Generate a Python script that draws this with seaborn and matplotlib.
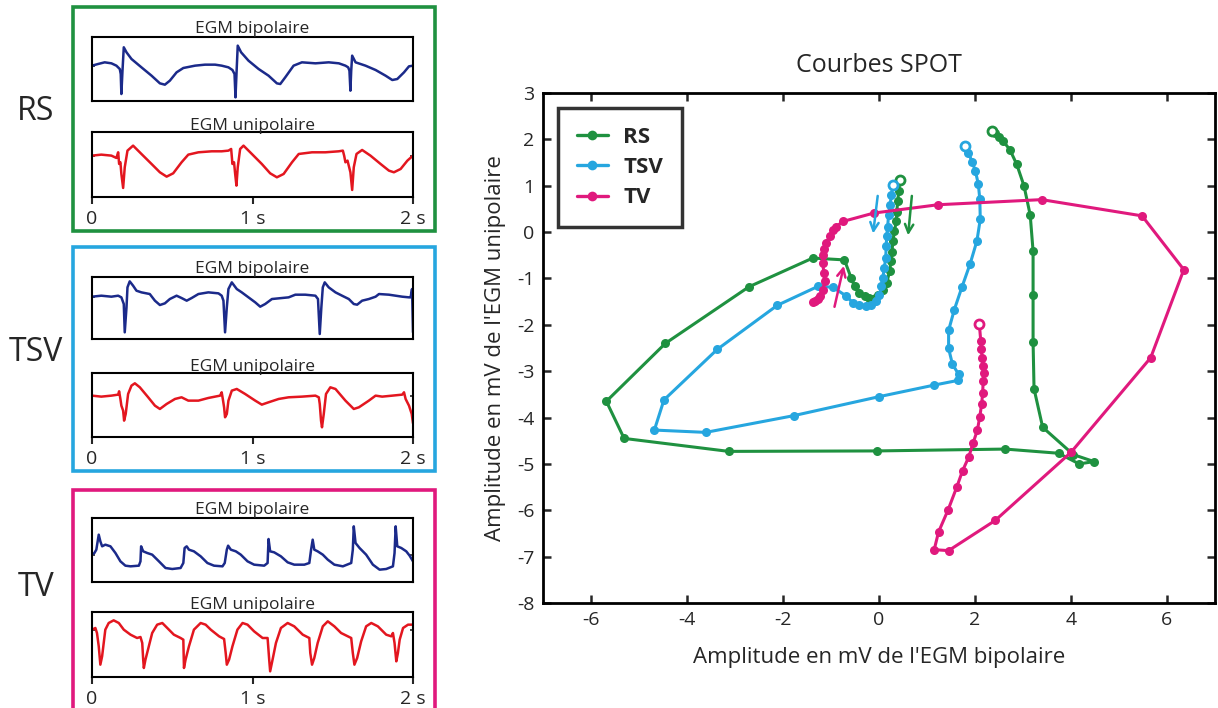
import matplotlib.pyplot as plt
from matplotlib.lines import Line2D
from matplotlib.patches import Rectangle
import seaborn as sns

sns.set_theme(style="white")
plt.rcParams['font.family'] = ['Open Sans', 'DejaVu Sans']
plt.rcParams['axes.unicode_minus'] = False

# ---- colours
GREEN = '#1f9140'
BLUE = '#26a6df'
PINK = '#e0197d'
NAVY = '#1b2a8a'
RED = '#e3161f'

# ---- SPOT curves (bipolar mV, unipolar mV)
rs_x = [0.44, 0.41, 0.39, 0.37, 0.36, 0.32, 0.29, 0.27, 0.25, 0.22,
        0.16, 0.08, -0.02, -0.20, -0.30, -0.42, -0.51, -0.58, -0.72, -1.38,
        -2.71, -4.45, -5.68, -5.31, -3.13, -0.04, 2.63, 3.74, 4.17, 4.48,
        4.05, 3.41, 3.23, 3.21, 3.21, 3.21, 3.15, 3.02, 2.87, 2.73,
        2.59, 2.51, 2.42, 2.35]
rs_y = [1.13, 0.88, 0.66, 0.44, 0.23, 0.02, -0.20, -0.42, -0.63, -0.85,
        -1.10, -1.24, -1.35, -1.42, -1.38, -1.31, -1.17, -0.99, -0.60, -0.56,
        -1.18, -2.40, -3.65, -4.45, -4.73, -4.72, -4.68, -4.77, -5.00, -4.95,
        -4.80, -4.21, -3.38, -2.37, -1.35, -0.41, 0.37, 1.00, 1.46, 1.77,
        1.96, 2.06, 2.13, 2.17]

tsv_x = [0.29, 0.26, 0.23, 0.20, 0.18, 0.16, 0.15, 0.14, 0.11, 0.08,
         0.05, 0.01, -0.06, -0.16, -0.27, -0.41, -0.54, -0.68, -0.96, -1.27,
         -2.12, -3.37, -4.48, -4.68, -3.61, -1.78, 0.00, 1.15, 1.64, 1.66,
         1.53, 1.45, 1.45, 1.57, 1.73, 1.90, 2.04, 2.11, 2.10, 2.07,
         2.01, 1.94, 1.86, 1.79]
tsv_y = [1.02, 0.80, 0.59, 0.37, 0.12, -0.09, -0.31, -0.56, -0.77, -0.99,
         -1.17, -1.35, -1.49, -1.58, -1.60, -1.58, -1.53, -1.38, -1.19, -1.17,
         -1.58, -2.53, -3.62, -4.27, -4.32, -3.96, -3.55, -3.30, -3.20, -3.07,
         -2.85, -2.51, -2.12, -1.67, -1.18, -0.68, -0.19, 0.28, 0.71, 1.03,
         1.31, 1.52, 1.71, 1.86]

tv_x = [-1.38, -1.34, -1.28, -1.22, -1.17, -1.13, -1.15, -1.17, -1.17, -1.15,
        -1.10, -1.03, -0.96, -0.89, -0.75, -0.11, 1.23, 3.39, 5.48, 6.35,
        5.66, 4.00, 2.42, 1.45, 1.15, 1.24, 1.44, 1.62, 1.74, 1.87,
        1.96, 2.05, 2.10, 2.14, 2.16, 2.17, 2.18, 2.17, 2.15, 2.13,
        2.12, 2.09]
tv_y = [-1.50, -1.48, -1.45, -1.38, -1.24, -1.06, -0.88, -0.67, -0.49, -0.36,
        -0.24, -0.09, 0.04, 0.12, 0.23, 0.41, 0.59, 0.70, 0.35, -0.81,
        -2.71, -4.75, -6.22, -6.87, -6.85, -6.47, -5.99, -5.50, -5.15, -4.85,
        -4.55, -4.27, -3.98, -3.70, -3.46, -3.22, -3.05, -2.89, -2.71, -2.53,
        -2.35, -1.98]

# direction arrows: (tail, head)
arrows = [((-0.02, 0.84), (-0.13, -0.09), BLUE),
          ((0.69, 0.84), (0.60, -0.13), GREEN),
          ((-0.94, -1.67), (-0.72, -0.67), PINK)]

# ---- EGM traces (time s, amplitude a.u.)
rs_bip_t = [0, .038, .079, .121, .152, .173, .179, .183, .190, .198,
            .215, .246, .308, .371, .423, .454, .485, .527, .569, .642,
            .704, .767, .808, .850, .875, .888, .894, .902, .908, .929,
            .975, 1.038, 1.100, 1.152, 1.173, 1.204, 1.256, 1.308, 1.392, 1.475,
            1.538, 1.579, 1.596, 1.604, 1.610, 1.615, 1.621, 1.642, 1.704, 1.767,
            1.829, 1.871, 1.902, 1.944, 1.975, 2.0]
rs_bip_a = [0, .05, .10, .07, 0, -.10, -.25, -.85, -.15, .55,
            .40, .20, -.05, -.30, -.53, -.57, -.45, -.20, -.07, 0,
            .03, .03, 0, -.05, -.13, -.25, -.95, -.05, .60, .40,
            .15, -.10, -.30, -.53, -.55, -.35, 0, .10, .07, .10,
            .07, 0, -.05, -.15, -.75, -.15, .30, .10, 0, -.13,
            -.30, -.43, -.40, -.20, -.02, 0]

rs_uni_t = [0, .058, .121, .152, .163, .169, .177, .183, .194, .204,
            .221, .256, .308, .371, .423, .465, .506, .558, .600, .663,
            .746, .808, .850, .867, .875, .885, .892, .900, .908, .923,
            .944, .996, 1.058, 1.110, 1.152, 1.194, 1.246, 1.288, 1.371, 1.454,
            1.538, 1.563, 1.571, 1.579, 1.592, 1.610, 1.621, 1.631, 1.648, 1.683,
            1.735, 1.798, 1.850, 1.881, 1.923, 1.965, 2.0]
rs_uni_a = [0, .03, 0, -.07, .10, -.25, -.20, -.55, -.97, -.35,
            .15, .30, .05, -.25, -.50, -.63, -.53, -.20, .03, .10,
            .13, .13, .15, .20, -.25, -.20, -.55, -.90, -.35, .20,
            .30, .05, -.25, -.53, -.65, -.55, -.20, .05, .10, .10,
            .13, .15, 0, -.20, -.15, -.50, -1.03, -.35, .05, .17,
            0, -.25, -.45, -.50, -.40, -.15, 0]

tsv_bip_t = [0, .058, .121, .163, .183, .198, .204, .215, .221, .235,
             .256, .277, .308, .360, .392, .423, .454, .485, .527, .558,
             .590, .621, .663, .725, .788, .808, .819, .829, .840, .850,
             .871, .902, .933, .975, 1.017, 1.048, 1.079, 1.121, 1.183, 1.225,
             1.267, 1.329, 1.392, 1.408, 1.419, 1.429, 1.438, 1.450, 1.475, 1.517,
             1.558, 1.600, 1.631, 1.652, 1.683, 1.725, 1.767, 1.788, 1.850, 1.933,
             1.975, 1.985, 1.994, 2.0]
tsv_bip_a = [0, .03, 0, .03, -.02, -.22, -1.07, -.32, .28, .46,
             .33, .18, .13, .08, -.12, -.25, -.20, -.07, .03, -.04,
             -.12, -.04, .08, .13, .10, .03, -.12, -1.07, -.32, .23,
             .43, .23, .13, -.02, -.17, -.30, -.22, -.07, -.04, -.02,
             .06, .06, .03, -.07, -1.12, -.32, .28, .43, .28, .13,
             .03, -.07, -.22, -.24, -.12, -.07, 0, .08, .06, 0,
             -.02, -.02, .23, -1.07]

tsv_uni_t = [0, .058, .121, .163, .169, .177, .183, .194, .200, .210,
             .225, .246, .267, .298, .350, .392, .423, .465, .517, .558,
             .600, .663, .725, .798, .808, .815, .823, .829, .840, .850,
             .871, .902, .954, 1.017, 1.058, 1.100, 1.163, 1.225, 1.308, 1.392,
             1.413, 1.419, 1.427, 1.433, 1.444, 1.458, 1.485, 1.517, 1.579, 1.631,
             1.663, 1.725, 1.767, 1.808, 1.871, 1.933, 1.944, 1.954, 1.975, 1.992,
             2.0]
tsv_uni_a = [0, -.03, 0, .03, .13, -.10, -.30, -.45, -.75, -.55,
             .05, .30, .37, .25, -.05, -.30, -.40, -.25, -.10, -.05,
             -.15, -.15, -.07, 0, .10, -.10, -.35, -.65, -.55, -.15,
             .15, .20, .05, -.15, -.27, -.20, -.10, -.05, -.03, 0,
             -.05, -.25, -.75, -.95, -.55, .05, .25, .20, -.15, -.40,
             -.35, -.15, 0, -.03, 0, .03, .10, -.10, -.30, -.55,
             -.83]

tv_bip_t = [0, .015, .027, .042, .052, .063, .083, .115, .146, .177,
            .208, .240, .292, .302, .306, .319, .344, .375, .417, .458,
            .500, .552, .569, .577, .590, .604, .635, .677, .719, .760,
            .813, .827, .840, .848, .865, .896, .927, .969, 1.010, 1.073,
            1.094, 1.100, 1.110, 1.135, 1.177, 1.219, 1.260, 1.323, 1.354, 1.365,
            1.375, 1.385, 1.406, 1.438, 1.469, 1.510, 1.563, 1.615, 1.625, 1.631,
            1.642, 1.667, 1.708, 1.750, 1.792, 1.833, 1.875, 1.885, 1.892, 1.902,
            1.927, 1.958, 1.979, 2.0]
tv_bip_a = [0, .05, .15, .60, .40, .25, .30, .25, .05, -.20,
            -.33, -.35, -.33, -.20, .25, .10, .05, 0, -.20, -.40,
            -.43, -.40, -.25, .20, .25, .15, .10, -.05, -.25, -.33,
            -.35, -.25, .15, .27, .15, .10, 0, -.20, -.30, -.33,
            -.25, .47, .10, .07, -.05, -.23, -.30, -.30, -.25, .15,
            .45, .15, .10, 0, -.15, -.30, -.35, -.25, .15, .85,
            .35, .20, 0, -.30, -.45, -.43, -.35, .05, .85, .25,
            .20, .10, -.03, -.20]

tv_uni_t = [0, .021, .031, .042, .052, .063, .073, .083, .104, .135,
            .167, .198, .240, .281, .302, .313, .319, .323, .333, .354,
            .375, .406, .438, .469, .510, .552, .569, .573, .583, .604,
            .635, .677, .708, .740, .792, .823, .833, .840, .854, .875,
            .906, .938, .969, 1.010, 1.063, 1.094, 1.104, 1.110, 1.125, 1.146,
            1.177, 1.219, 1.260, 1.313, 1.354, 1.360, 1.371, 1.385, 1.406, 1.438,
            1.469, 1.510, 1.552, 1.615, 1.625, 1.635, 1.652, 1.677, 1.708, 1.740,
            1.781, 1.833, 1.865, 1.875, 1.885, 1.896, 1.906, 1.917, 1.938, 1.969,
            2.0]
tv_uni_a = [0, .05, -.10, -.50, -1.05, -.80, -.40, 0, .20, .28,
            .20, 0, -.15, -.25, -.22, -.40, -.90, -1.15, -.90, -.50,
            -.10, .15, .20, .05, -.15, -.25, -.30, -1.15, -.90, -.50,
            0, .20, .15, 0, -.20, -.28, -.70, -1.05, -.90, -.50,
            0, .20, .15, -.05, -.25, -.25, -.90, -1.25, -.90, -.40,
            .05, .20, .10, -.15, -.25, -.70, -1.05, -.85, -.40, .10,
            .25, .10, -.10, -.25, -.70, -1.05, -.85, -.35, .10, .20,
            .10, -.15, -.20, -.10, -.40, -.95, -.70, -.30, .05, .15,
            .15]

panels = [
    # label, frame colour, frame y-range (px from top), bip axes, uni axes, traces, ylims
    ('RS', GREEN, (7.3, 230.7), (37.3, 100.7), (132.3, 197.3),
     (rs_bip_t, rs_bip_a), (rs_uni_t, rs_uni_a), (-1.05, 0.85), (-1.25, 0.70), 111.7),
    ('TSV', BLUE, (247.3, 470.7), (276.7, 339.0), (373.3, 437.3),
     (tsv_bip_t, tsv_bip_a), (tsv_uni_t, tsv_uni_a), (-1.27, 0.60), (-1.25, 0.67), 353.0),
    ('TV', PINK, (490.0, 760.0), (518.0, 582.0), (612.0, 677.0),
     (tv_bip_t, tv_bip_a), (tv_uni_t, tv_uni_a), (-0.82, 1.10), (-1.42, 0.53), 588.0),
]

W, H = 1218, 708
fig = plt.figure(figsize=(W / 100, H / 100), dpi=100)


def frac_axes(left_px, right_px, top_px, bottom_px):
    return fig.add_axes([left_px / W, 1 - bottom_px / H,
                         (right_px - left_px) / W, (bottom_px - top_px) / H])


for (lab, col, fr, bip, uni, bip_tr, uni_tr, bip_lim, uni_lim, lab_y) in panels:
    fig.patches.append(Rectangle((72.5 / W, 1 - fr[1] / H), (435 - 72.5) / W,
                                 (fr[1] - fr[0]) / H, transform=fig.transFigure,
                                 fill=False, edgecolor=col, linewidth=2.6,
                                 clip_on=False))
    fig.text(36 / W, 1 - lab_y / H, lab, fontsize=23, ha='center', va='center')
    for rng, tr, lim, clr, title in [(bip, bip_tr, bip_lim, NAVY, 'EGM bipolaire'),
                                     (uni, uni_tr, uni_lim, RED, 'EGM unipolaire')]:
        ax = frac_axes(92, 413, rng[0], rng[1])
        sns.lineplot(x=tr[0], y=tr[1], sort=False, estimator=None, color=clr,
                     linewidth=1.8, ax=ax)
        ax.set_xlim(0, 2)
        ax.set_ylim(*lim)
        ax.set_title(title, fontsize=12.5, pad=2)
        ax.set_yticks([0])
        ax.set_yticklabels([])
        ax.tick_params(axis='y', direction='in', length=2, width=1.2,
                       left=True, right=True)
        if clr == RED:
            ax.set_xticks([0, 1, 2])
            ax.set_xticklabels(['0', '1 s', '2 s'], fontsize=14)
            ax.tick_params(axis='x', direction='out', length=5, width=1.5,
                           bottom=True, pad=4)
        else:
            ax.set_xticks([])
        ax.set_xlabel('')
        ax.set_ylabel('')
        for sp in ax.spines.values():
            sp.set_visible(True)
            sp.set_color('black')
            sp.set_linewidth(1.5)

# ---- main SPOT plot
ax = frac_axes(543, 1215, 93, 603)
series = [('RS', rs_x, rs_y, GREEN, True),
          ('TSV', tsv_x, tsv_y, BLUE, True),
          ('TV', tv_x, tv_y, PINK, False)]
for name, xs, ys, col, open_start in series:
    sns.lineplot(x=xs, y=ys, sort=False, estimator=None, color=col, linewidth=2.2,
                 marker='o', markersize=6.5, markeredgewidth=0, ax=ax, zorder=3)
    ends = [-1, 0] if open_start else [-1]
    for i in ends:
        ax.plot(xs[i], ys[i], 'o', markersize=6.5, markerfacecolor='white',
                markeredgecolor=col, markeredgewidth=2, zorder=4)

for (tx, ty), (hx, hy), col in arrows:
    ax.annotate('', xy=(hx, hy), xytext=(tx, ty),
                arrowprops=dict(arrowstyle='->,head_length=0.5,head_width=0.25',
                                color=col, lw=1.8), zorder=5)

ax.set_xlim(-7, 7)
ax.set_ylim(-8, 3)
ax.set_xticks([-6, -4, -2, 0, 2, 4, 6])
ax.set_yticks(range(-8, 4))
ax.tick_params(direction='in', length=6, width=1.8, labelsize=14,
               top=True, right=True, bottom=True, left=True, pad=6)
for sp in ax.spines.values():
    sp.set_visible(True)
    sp.set_color('black')
    sp.set_linewidth(2)
ax.set_title('Courbes SPOT', fontsize=18, pad=15)
ax.set_xlabel("Amplitude en mV de l'EGM bipolaire", fontsize=16, labelpad=13)
ax.set_ylabel("Amplitude en mV de l'EGM unipolaire", fontsize=16, labelpad=8)

handles = [Line2D([], [], color=c, lw=2.4, marker='o', markersize=7,
                  markeredgewidth=0) for c in (GREEN, BLUE, PINK)]
leg = ax.legend(handles, ['RS', 'TSV', 'TV'], loc='upper left',
                bbox_to_anchor=(0.022, 0.971), borderaxespad=0,
                prop={'weight': 'bold', 'size': 16},
                frameon=True, fancybox=False, edgecolor='black', handlelength=1.4,
                borderpad=0.85, labelspacing=0.42, handletextpad=0.7)
leg.get_frame().set_linewidth(2.5)

fig.savefig('out.png', dpi=100)
